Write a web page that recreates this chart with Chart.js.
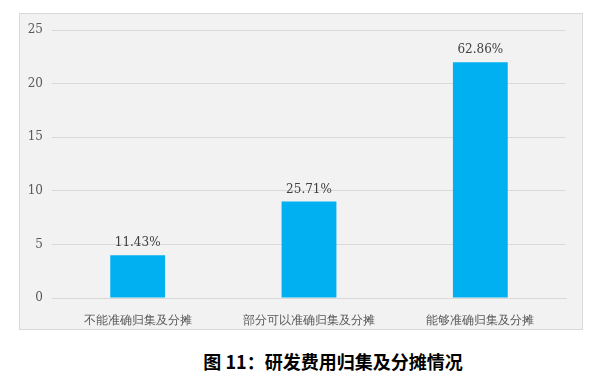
<!DOCTYPE html>
<html>
<head>
<meta charset="utf-8">
<script src="https://cdn.jsdelivr.net/npm/chart.js@4.4.0/dist/chart.umd.min.js"></script>
<style>
  body { margin: 0; background: #fff; width: 602px; height: 382px; position: relative; }
  #box { position: absolute; left: 19px; top: 13px; width: 562px; height: 315px;
         background: #f2f2f2; border: 1px solid #d9d9d9; }
  #chart { display: block; }
  #title { position: absolute; left: 0; width: 666px; top: 348px; text-align: center;
           font-family: "Noto Sans CJK SC", sans-serif; font-weight: bold; font-size: 18px; color: #000; }
</style>
</head>
<body>
<div id="box"><canvas id="chart" width="562" height="315"></canvas></div>
<div id="title">图 11：研发费用归集及分摊情况</div>
<script>
const categories = ['不能准确归集及分摊', '部分可以准确归集及分摊', '能够准确归集及分摊'];
const counts = [4, 9, 22];
const percentLabels = ['11.43%', '25.71%', '62.86%'];
const yTicks = [0, 5, 10, 15, 20, 25];

// draws the percent text above each bar
const barLabels = {
  id: 'barLabels',
  afterDatasetsDraw(chart) {
    const ctx = chart.ctx;
    const meta = chart.getDatasetMeta(0);
    ctx.save();
    ctx.font = '12px "DejaVu Serif", serif';
    ctx.fillStyle = '#404040';
    ctx.textAlign = 'center';
    ctx.textBaseline = 'bottom';
    meta.data.forEach(function (bar, i) {
      ctx.fillText(percentLabels[i], bar.x, bar.y - 6);
    });
    ctx.restore();
  }
};

new Chart(document.getElementById('chart'), {
  type: 'bar',
  data: {
    labels: categories,
    datasets: [{
      data: counts,
      backgroundColor: '#00b0f0',
      barPercentage: 0.32,
      categoryPercentage: 1
    }]
  },
  options: {
    responsive: false,
    animation: false,
    layout: { padding: { top: 16, right: 16, left: 0, bottom: 0 } },
    plugins: { legend: { display: false }, tooltip: { enabled: false } },
    scales: {
      x: {
        grid: { display: false },
        border: { color: '#d9d9d9' },
        ticks: { color: '#595959', font: { size: 12, family: '"DejaVu Serif", serif' }, padding: 8 },
        afterFit: function (scale) { scale.height = 31; }
      },
      y: {
        min: 0,
        max: 25,
        afterBuildTicks: function (scale) { scale.ticks = yTicks.map(v => ({ value: v })); },
        grid: { color: '#d9d9d9', drawTicks: false },
        border: { display: false },
        ticks: { color: '#595959', font: { size: 12, family: '"DejaVu Serif", serif' }, padding: 9 },
        afterFit: function (scale) { scale.width = 32; }
      }
    }
  },
  plugins: [barLabels]
});
</script>
</body>
</html>
